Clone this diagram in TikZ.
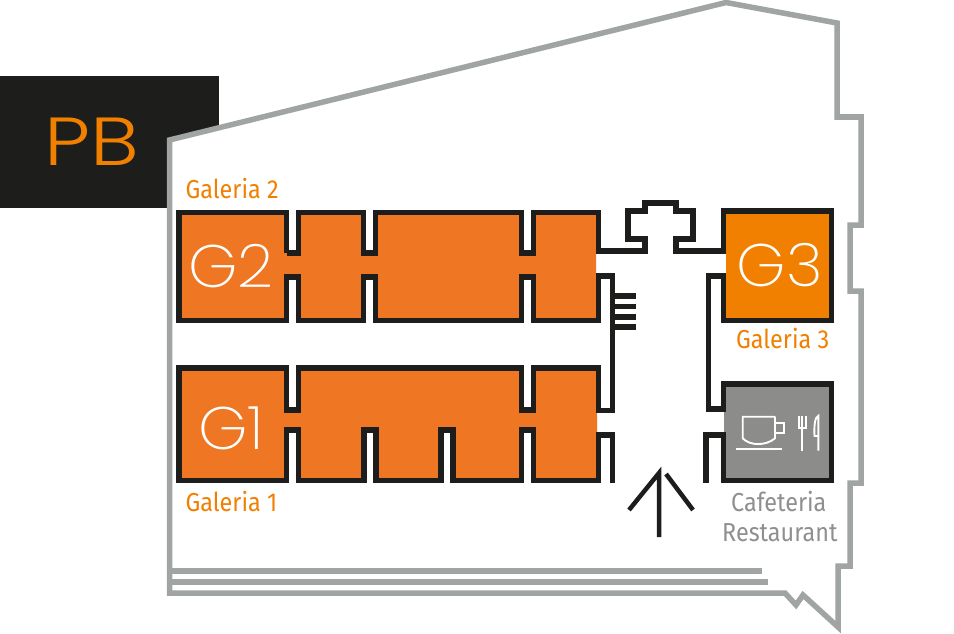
\documentclass[tikz,border=0pt]{standalone}
\usepackage{fontspec}
\setmainfont{Fira Sans}[FakeStretch=0.9]
\newfontfamily\logofont{Poppins ExtraLight}[FakeStretch=1.05]
\newfontfamily\logofontwide{Poppins Light}[FakeStretch=1.2]
\definecolor{wallblack}{HTML}{1D1D1B}
\definecolor{outlinegray}{HTML}{A0A4A3}
\definecolor{roomorange}{HTML}{EF7622}
\definecolor{labelorange}{HTML}{F18000}
\definecolor{cafegray}{HTML}{8C8C8B}
\definecolor{cafetext}{HTML}{8F8F8E}
\tikzset{
  outline/.style={draw=outlinegray, line width=5.5pt, line join=miter},
  wall/.style={draw=wallblack, line width=5.6pt, line join=miter},
  room/.style={fill=roomorange},
  icon/.style={draw=white, line width=1.9pt},
  roomlabel/.style={anchor=base west, inner sep=0pt, font=\fontsize{26}{26}\selectfont, text=labelorange},
  cafelabel/.style={anchor=base west, inner sep=0pt, font=\fontsize{26}{26}\selectfont, text=cafetext},
  roomlogo/.style={inner sep=0pt, font=\logofont\fontsize{60}{60}\selectfont, text=white},
}
\begin{document}
\begin{tikzpicture}[x=1pt, y=-1pt]
      \useasboundingbox (0,0) rectangle (954,634);

      \fill[wallblack] (0,76) rectangle (219,208);
      \node[inner sep=0pt, font=\logofontwide\fontsize{68}{68}\selectfont, text=labelorange] (pb) at (92,142) {PB};

      \fill[white] (169.5,140) -- (726,2.5) -- (837,23) -- (837,117) -- (861,117) -- (861,225) -- (850,225) -- (850,291) -- (861,291) -- (861,483) -- (850,483) -- (850,566) -- (838,566) -- (838,627) -- (803,595) -- (796,605) -- (785,593) -- (169.5,593) -- cycle;
      \draw[outline] (169.5,140) -- (726,2.5) -- (837,23) -- (837,117) -- (861,117) -- (861,225) -- (850,225) -- (850,291) -- (861,291) -- (861,483) -- (850,483) -- (850,566) -- (838,566) -- (838,627) -- (803,595) -- (796,605) -- (785,593) -- (169.5,593) -- cycle;
      \draw[outline] (169.5,571) -- (762,571);
      \draw[outline] (169.5,582) -- (768,582);

      % room fills
      \fill[room] (179,212.5) -- (286.5,212.5) -- (286.5,253) -- (298.5,253) -- (298.5,212.5) -- (363.5,212.5) -- (363.5,253) -- (375.5,253) -- (375.5,212.5) -- (521.5,212.5) -- (521.5,253) -- (533.5,253) -- (533.5,212.5) -- (596,212.5) -- (596,320.5) -- (533.5,320.5) -- (533.5,277) -- (521.5,277) -- (521.5,320.5) -- (375.5,320.5) -- (375.5,277) -- (363.5,277) -- (363.5,320.5) -- (298.5,320.5) -- (298.5,277) -- (286.5,277) -- (286.5,320.5) -- (179,320.5) -- cycle;
      \fill[room] (179,368) -- (286.5,368) -- (286.5,410) -- (298.5,410) -- (298.5,368) -- (521.5,368) -- (521.5,410) -- (533.5,410) -- (533.5,368) -- (597,368) -- (597,480.5) -- (533.5,480.5) -- (533.5,430) -- (521.5,430) -- (521.5,480.5) -- (453,480.5) -- (453,430) -- (441,430) -- (441,480.5) -- (376,480.5) -- (376,430) -- (364,430) -- (364,480.5) -- (298.5,480.5) -- (298.5,430) -- (286.5,430) -- (286.5,480.5) -- (179,480.5) -- cycle;
      \fill[labelorange] (725.5,211) rectangle (831.5,320.5);
      \fill[cafegray] (724,384) rectangle (831.5,480.5);

      % walls
      \draw[wall] (286.5,253) -- (298.5,253) -- (298.5,212.5) -- (363.5,212.5) -- (363.5,253) -- (375.5,253) -- (375.5,212.5) -- (521.5,212.5) -- (521.5,253) -- (533.5,253) -- (533.5,212.5) -- (598.5,212.5) -- (598.5,251) -- (645,251) -- (645,239) -- (628,239) -- (628,211) -- (645,211) -- (645,203) -- (676,203) -- (676,211) -- (693,211) -- (693,239) -- (676,239) -- (676,251) -- (723.5,251) -- (723.5,211) -- (831.5,211) -- (831.5,320.5) -- (723.5,320.5) -- (723.5,276) -- (708.5,276) -- (708.5,409) -- (723.5,409) -- (723.5,384) -- (831.5,384) -- (831.5,480.5) -- (723.5,480.5) -- (723.5,435) -- (706,435) -- (706,483);
      \draw[wall] (286.5,253) -- (286.5,212.5) -- (179,212.5) -- (179,320.5) -- (286.5,320.5) -- (286.5,277) -- (298.5,277) -- (298.5,320.5) -- (363.5,320.5) -- (363.5,277) -- (375.5,277) -- (375.5,320.5) -- (521.5,320.5) -- (521.5,277) -- (533.5,277) -- (533.5,320.5) -- (598.5,320.5) -- (598.5,276) -- (612.5,276) -- (612.5,410.5) -- (598.5,410.5) -- (598.5,368) -- (533.5,368) -- (533.5,410) -- (521.5,410) -- (521.5,368) -- (298.5,368) -- (298.5,410) -- (286.5,410) -- (286.5,368) -- (179,368) -- (179,480.5) -- (286.5,480.5) -- (286.5,430) -- (298.5,430) -- (298.5,480.5) -- (364,480.5) -- (364,430) -- (376,430) -- (376,480.5) -- (441,480.5) -- (441,430) -- (453,430) -- (453,480.5) -- (521.5,480.5) -- (521.5,430) -- (533.5,430) -- (533.5,480.5) -- (598.5,480.5) -- (598.5,435) -- (612.5,435) -- (612.5,483);

      % stairs
      \foreach \y in {295.7, 306.3, 316.7, 327}
        \draw[wall] (612.5,\y) -- (635.7,\y);

      % entrance arrow
      \draw[wallblack, line width=4.5pt, line join=miter] (659,537) -- (659,473) -- (629,510);
      \draw[wallblack, line width=4.5pt] (666,474) -- (693,510);

      % cup and cutlery
      \draw[icon] (775,416.7) -- (742.7,416.7) -- (742.7,438.3) .. controls (750,446) and (766,446) .. (775,438.3) -- (775,416.7);
      \draw[icon] (775,423.3) -- (784.3,423.3) -- (784.3,433.3) -- (775,433.3);
      \draw[icon] (736,449.3) -- (781.7,449.3);
      \draw[icon] (799,416) -- (799,427.7) -- (805.7,427.7) -- (805.7,416);
      \draw[icon] (802.3,416) -- (802.3,450.7);
      \draw[icon] (818.3,450.7) -- (818.3,416) .. controls (815,417) and (814,425) .. (814.5,436) -- (818.3,436);

      \node[roomlogo] (g2) at (231,266) {G2};
      \node[roomlogo] (g1) at (231,428) {G1};
      \node[roomlogo] (g3) at (780,265) {G3};
      \node[roomlabel] (galeria2) at (185.5,198) {Galeria 2};
      \node[roomlabel] (galeria1) at (185.5,511.7) {Galeria 1};
      \node[roomlabel] (galeria3) at (736,348) {Galeria 3};
      \node[cafelabel] (cafeteria) at (731,511.7) {Cafeteria};
      \node[cafelabel] (restaurant) at (722,541.7) {Restaurant};
\end{tikzpicture}
\end{document}
